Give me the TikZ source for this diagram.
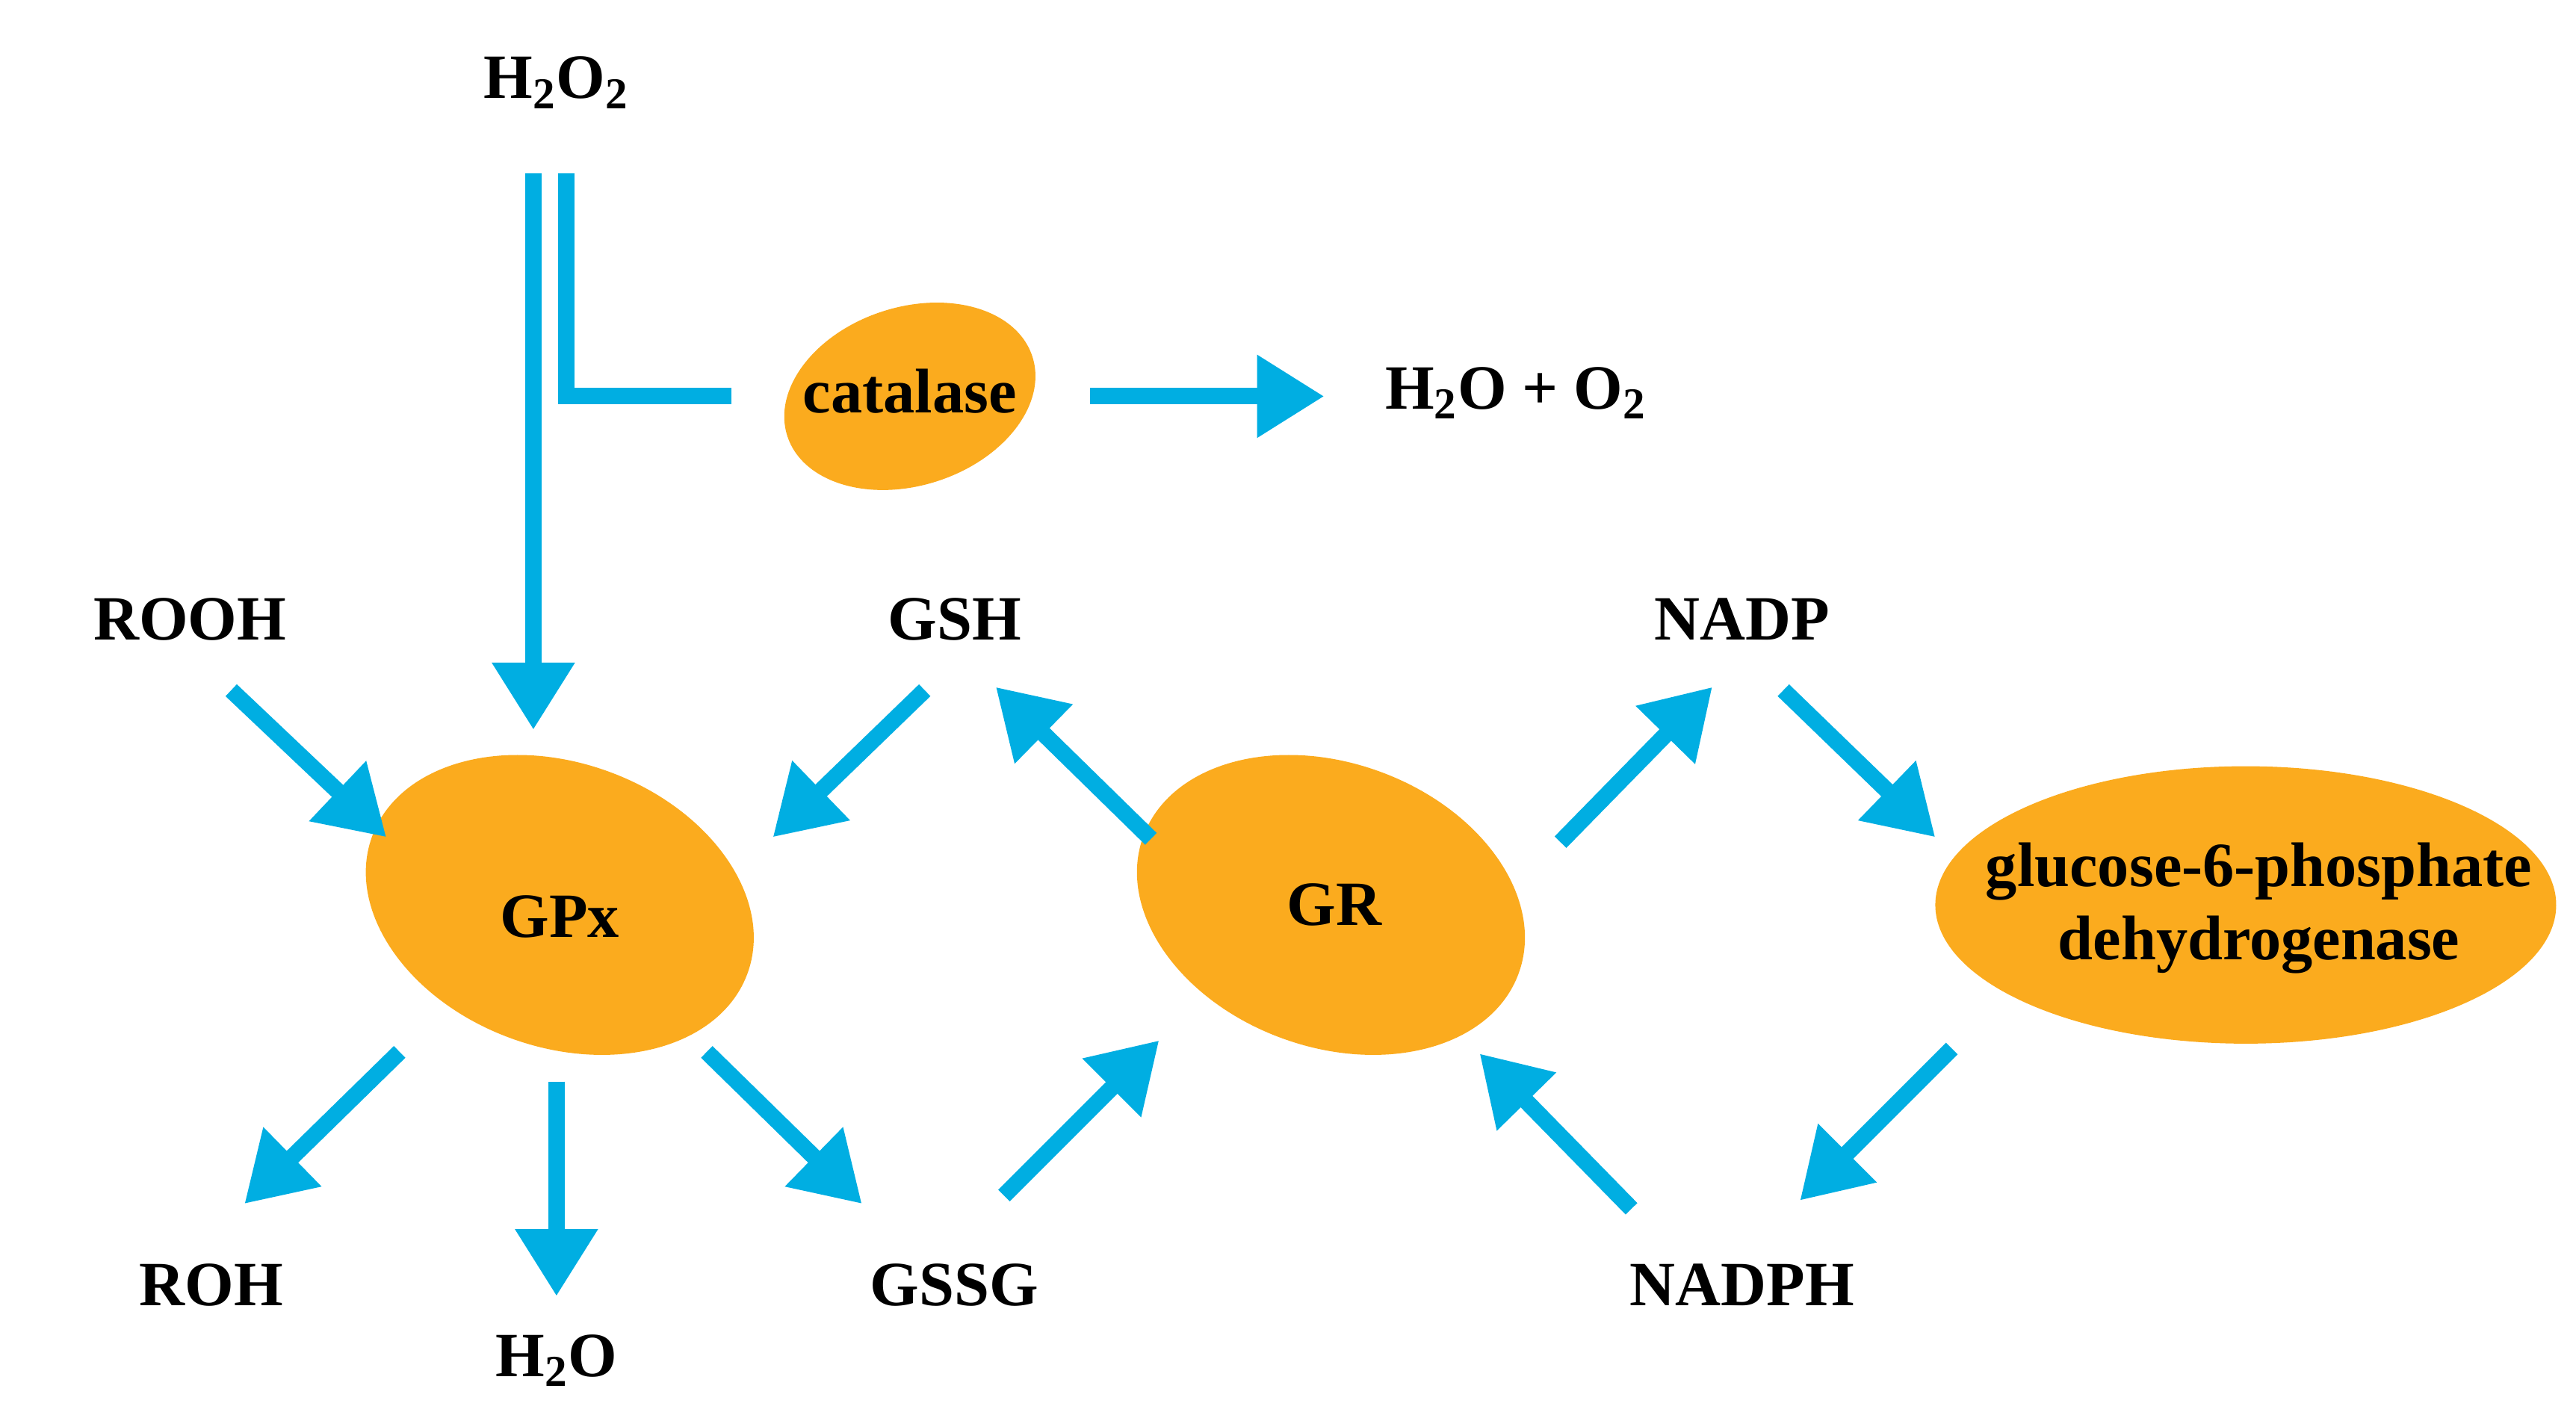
\documentclass[tikz,border=0pt]{standalone}
\usepackage{fontspec}
\setmainfont{Liberation Serif}
\usetikzlibrary{arrows.meta}
\definecolor{arr}{RGB}{0,174,226}
\definecolor{enz}{RGB}{251,171,30}
\begin{document}
\begin{tikzpicture}[x=0.0221cm,y=-0.0221cm,
  lbl/.style={font=\fontsize{24}{28}\selectfont\bfseries,inner sep=0pt},
  enzy/.style={ellipse,fill=enz,draw=none,inner sep=0pt},
  ar/.style={draw=arr,line width=0.22cm,-{Triangle[length=0.9cm,width=1.05cm]}},
  ln/.style={draw=arr,line width=0.22cm}]
\useasboundingbox (0,0) rectangle (1560,864);
\node[lbl] (h2o2) at (337,50) {H\textsubscript{2}O\textsubscript{2}};
\node[lbl] (h2oo2) at (918,238) {H\textsubscript{2}O + O\textsubscript{2}};
\node[lbl] (rooh) at (115,375) {ROOH};
\node[lbl] (gsh) at (578,375) {GSH};
\node[lbl] (nadp) at (1055,375) {NADP};
\node[lbl] (roh) at (128,778) {ROH};
\node[lbl] (h2o) at (337,824) {H\textsubscript{2}O};
\node[lbl] (gssg) at (578,778) {GSSG};
\node[lbl] (nadph) at (1055,778) {NADPH};
\fill[enz,rotate around={18:(551,240)}] (551,240) ellipse [x radius=78,y radius=54];
\node[lbl] (cat) at (551,237) {catalase};
\fill[enz,rotate around={-20:(339,548)}] (339,548) ellipse [x radius=121,y radius=86];
\node[lbl] (gpx) at (339,555) {GPx};
\fill[enz,rotate around={-20:(806,548)}] (806,548) ellipse [x radius=121,y radius=86];
\node[lbl] (gr) at (808,548) {GR};
\fill[enz] (1360,548) ellipse [x radius=188,y radius=84];
\node[lbl,align=center] (g6pd) at (1368,550) {glucose-6-phosphate\\dehydrogenase};
% coordinates
\coordinate (a1) at (323,105); \coordinate (a2) at (323,442);
\coordinate (b1) at (343,105); \coordinate (b2) at (343,240); \coordinate (b3) at (443,240);
\draw[ar] (a1) -- (a2);
\draw[ln] (b1) -- (b2) -- (b3);
\draw[ar] (660,240) -- (802,240);
\draw[ar] (140,418) -- (234,507);
\draw[ar] (560,418) -- (468,507);
\draw[ar] (697,508) -- (603,416);
\draw[ar] (945,510) -- (1037,416);
\draw[ar] (1080,418) -- (1172,507);
\draw[ar] (1182,635) -- (1090,727);
\draw[ar] (988,732) -- (896,638);
\draw[ar] (608,724) -- (702,630);
\draw[ar] (242,637) -- (148,729);
\draw[ar] (337,655) -- (337,785);
\draw[ar] (428,637) -- (522,729);
\end{tikzpicture}
\end{document}
